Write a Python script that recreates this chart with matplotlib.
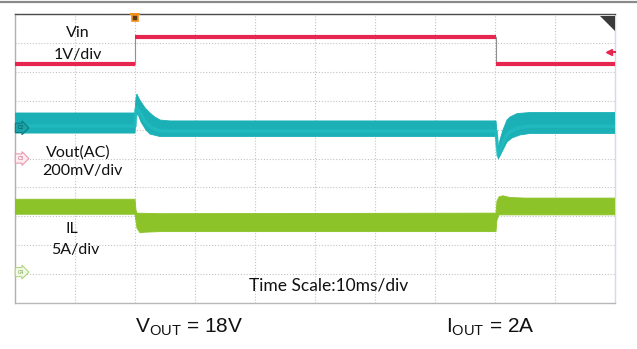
import matplotlib.pyplot as plt
import numpy as np
from matplotlib.lines import Line2D
from matplotlib.patches import Polygon

plt.rcParams["mathtext.fontset"] = "custom"
plt.rcParams["mathtext.rm"] = "Liberation Sans"
plt.rcParams["mathtext.it"] = "Liberation Sans:italic"

# scope screen: 10 ms/div horizontally, 10 divisions each way
ms_per_div = 10.0
n_xdiv, n_ydiv = 10, 10

# CH3 - Vin, 1 V/div, ground marker at 5 div
vin_scale = 1.0
vin_ref = 5.0
vin_edges = [0.0, 20.0, 80.1, 100.0]
vin_levels = [3.27, 4.20, 3.27]

# CH2 - Vout (AC coupled), 200 mV/div, envelope of the ripple band
vout_scale = 200.0
vout_ref = 6.06
vout_hi_t = [0, 20, 20.17, 20.3, 20.8, 21.7, 22.5, 23.3, 24.2, 25.8,
             80.17, 80.33, 80.55, 80.83, 81.33, 82.0, 82.5, 83.7, 85.8, 100]
vout_hi_mv = [103, 103, 207, 234, 193, 137, 103, 75, 54, 48,
              48, -29, -153, -84, -15, 54, 75, 99, 106, 106]
vout_lo_t = [0, 20, 20.17, 20.5, 21.0, 21.83, 22.5, 24.17,
             80.17, 80.33, 80.55, 80.83, 81.33, 82.0, 82.83, 84.17, 85.83, 100]
vout_lo_mv = [-36, -36, 82, 96, 41, -15, -43, -60,
              -60, -139, -215, -195, -153, -98, -70, -49, -39, -39]

# CH4 - inductor current, 5 A/div
il_scale = 5.0
il_ref = 1.07
il_hi_t = [0, 20, 20.17, 20.33, 24.17, 80.17, 80.33, 80.67, 81.33, 82.5, 85.0, 100]
il_hi_a = [12.6, 12.6, 10.7, 10.2, 10.1, 10.2, 12.3, 13.0, 13.2, 12.9, 12.8, 12.8]
il_lo_t = [0, 20, 20.33, 20.83, 21.67, 24.17, 80.17, 80.33, 80.67, 100]
il_lo_a = [10.0, 10.0, 7.6, 6.8, 6.9, 7.0, 7.0, 9.0, 9.9, 9.9]

trigger_t = 20.0
trig_level_row = 8.685

RED = "#e6264f"
TEAL = "#1ab0b5"
TEAL_LIGHT = "#22bcc0"
GREEN = "#8cc328"


def band(ax, hi_t, hi_v, lo_t, lo_v, scale, ref, color):
    hi = np.array(hi_v) / scale + ref
    lo = np.array(lo_v) / scale + ref
    xs = np.concatenate([hi_t, lo_t[::-1]])
    ys = np.concatenate([hi, lo[::-1]])
    ax.fill(xs, ys, color=color, lw=0.6, ec=color, zorder=3)
    return hi, lo


fig = plt.figure(figsize=(6.37, 3.49), dpi=100)
ax = fig.add_axes([15 / 637, 46 / 349, 600 / 637, 289 / 349])
ax.set_xlim(0, n_xdiv * ms_per_div)
ax.set_ylim(0, n_ydiv)
ax.set_xticks(np.arange(0, 101, ms_per_div))
ax.set_yticks(np.arange(0, n_ydiv + 1))
ax.tick_params(length=0, labelbottom=False, labelleft=False)
ax.grid(True, color="#c4c4c4", lw=0.8, linestyle=(0, (1, 1.6)))
ax.set_axisbelow(True)
ax.spines["top"].set_color("#4a4a4a")
ax.spines["left"].set_color("#b0b0b0")
ax.spines["bottom"].set_color("#b8b8b8")
ax.spines["right"].set_color("#d2dbe6")
for s in ax.spines.values():
    s.set_linewidth(1.0)

# Vin: thick level segments joined by thin edges
for i, lvl in enumerate(vin_levels):
    ax.plot([vin_edges[i], vin_edges[i + 1]], [lvl / vin_scale + vin_ref] * 2,
            color=RED, lw=3.0, solid_capstyle="butt", zorder=4)
for i in range(1, len(vin_levels)):
    ax.plot([vin_edges[i]] * 2,
            [vin_levels[i - 1] / vin_scale + vin_ref, vin_levels[i] / vin_scale + vin_ref],
            color="#909090", lw=0.8, zorder=3)

# Vout band with a lighter average trace inside
hi, lo = band(ax, vout_hi_t, vout_hi_mv, vout_lo_t, vout_lo_mv, vout_scale, vout_ref, TEAL)
lo_on_hi = np.interp(vout_hi_t, vout_lo_t, lo)
ax.plot(vout_hi_t, 0.35 * hi + 0.65 * lo_on_hi, color=TEAL_LIGHT, lw=2.5, alpha=0.8, zorder=4)

# inductor current band
band(ax, il_hi_t, il_hi_a, il_lo_t, il_lo_a, il_scale, il_ref, GREEN)

# channel ground markers
tags = [("C2", vout_ref, "#1aa3a8", "#0b777b", "#0b4d50"),
        ("C3", vin_ref, "#fdebf0", "#e890a6", "#c4567a"),
        ("C4", il_ref, "#f1f9e4", "#a9d277", "#6a9a3a")]
for name, row, fc, ec, tc in tags:
    ax.text(0.4, row, name, fontsize=3.4, color=tc, va="center", ha="left", zorder=6,
            bbox=dict(boxstyle="rarrow,pad=0.45", fc=fc, ec=ec, lw=0.7))

# trigger position and level markers
ax.plot([trigger_t], [9.86], marker="s", ms=4.5, mfc="#5a3b14", mec="#f0901c",
        mew=1.2, clip_on=False, zorder=7)
ax.plot([trigger_t - 0.6, trigger_t + 0.6], [10.0, 10.0], color="#f0901c", lw=1.5,
        clip_on=False, zorder=7)
ax.plot([99.0], [trig_level_row], marker="<", ms=4, color=RED, clip_on=False, zorder=7)
ax.plot([99.0, 100.0], [trig_level_row] * 2, color=RED, lw=1.5, clip_on=False, zorder=7)
ax.add_patch(Polygon([[97.5, 9.93], [100, 9.93], [100, 9.41]], closed=True,
                     fc="#3a3a3a", ec="none", zorder=7))

# channel annotations
lab = dict(fontsize=11.5, family="Lato", color="#111111", ha="center", va="center", zorder=8)
ax.text(10.5, 9.34, "Vin", **lab)
ax.text(10.4, 8.58, "1V/div", **lab)
ax.text(10.5, 5.22, "Vout(AC)", **lab)
ax.text(11.2, 4.57, "200mV/div", **lab)
ax.text(9.5, 2.56, "IL", **lab)
ax.text(10.0, 1.83, "5A/div", **lab)
ax.text(52.2, 0.59, "Time Scale:10ms/div", **{**lab, "fontsize": 12.5})

# separator line along the top edge
fig.add_artist(Line2D([0, 1], [1 - 2 / 349] * 2, color="#8a8a8a", lw=1.6))

fig.text(0.297, 0.063, r"V$_{\mathrm{OUT}}$ = 18V", fontsize=15, family="Liberation Sans",
         ha="center", va="center", color="#111111")
fig.text(0.769, 0.063, r"I$_{\mathrm{OUT}}$ = 2A", fontsize=15, family="Liberation Sans",
         ha="center", va="center", color="#111111")

fig.savefig("out.png", dpi=100)
